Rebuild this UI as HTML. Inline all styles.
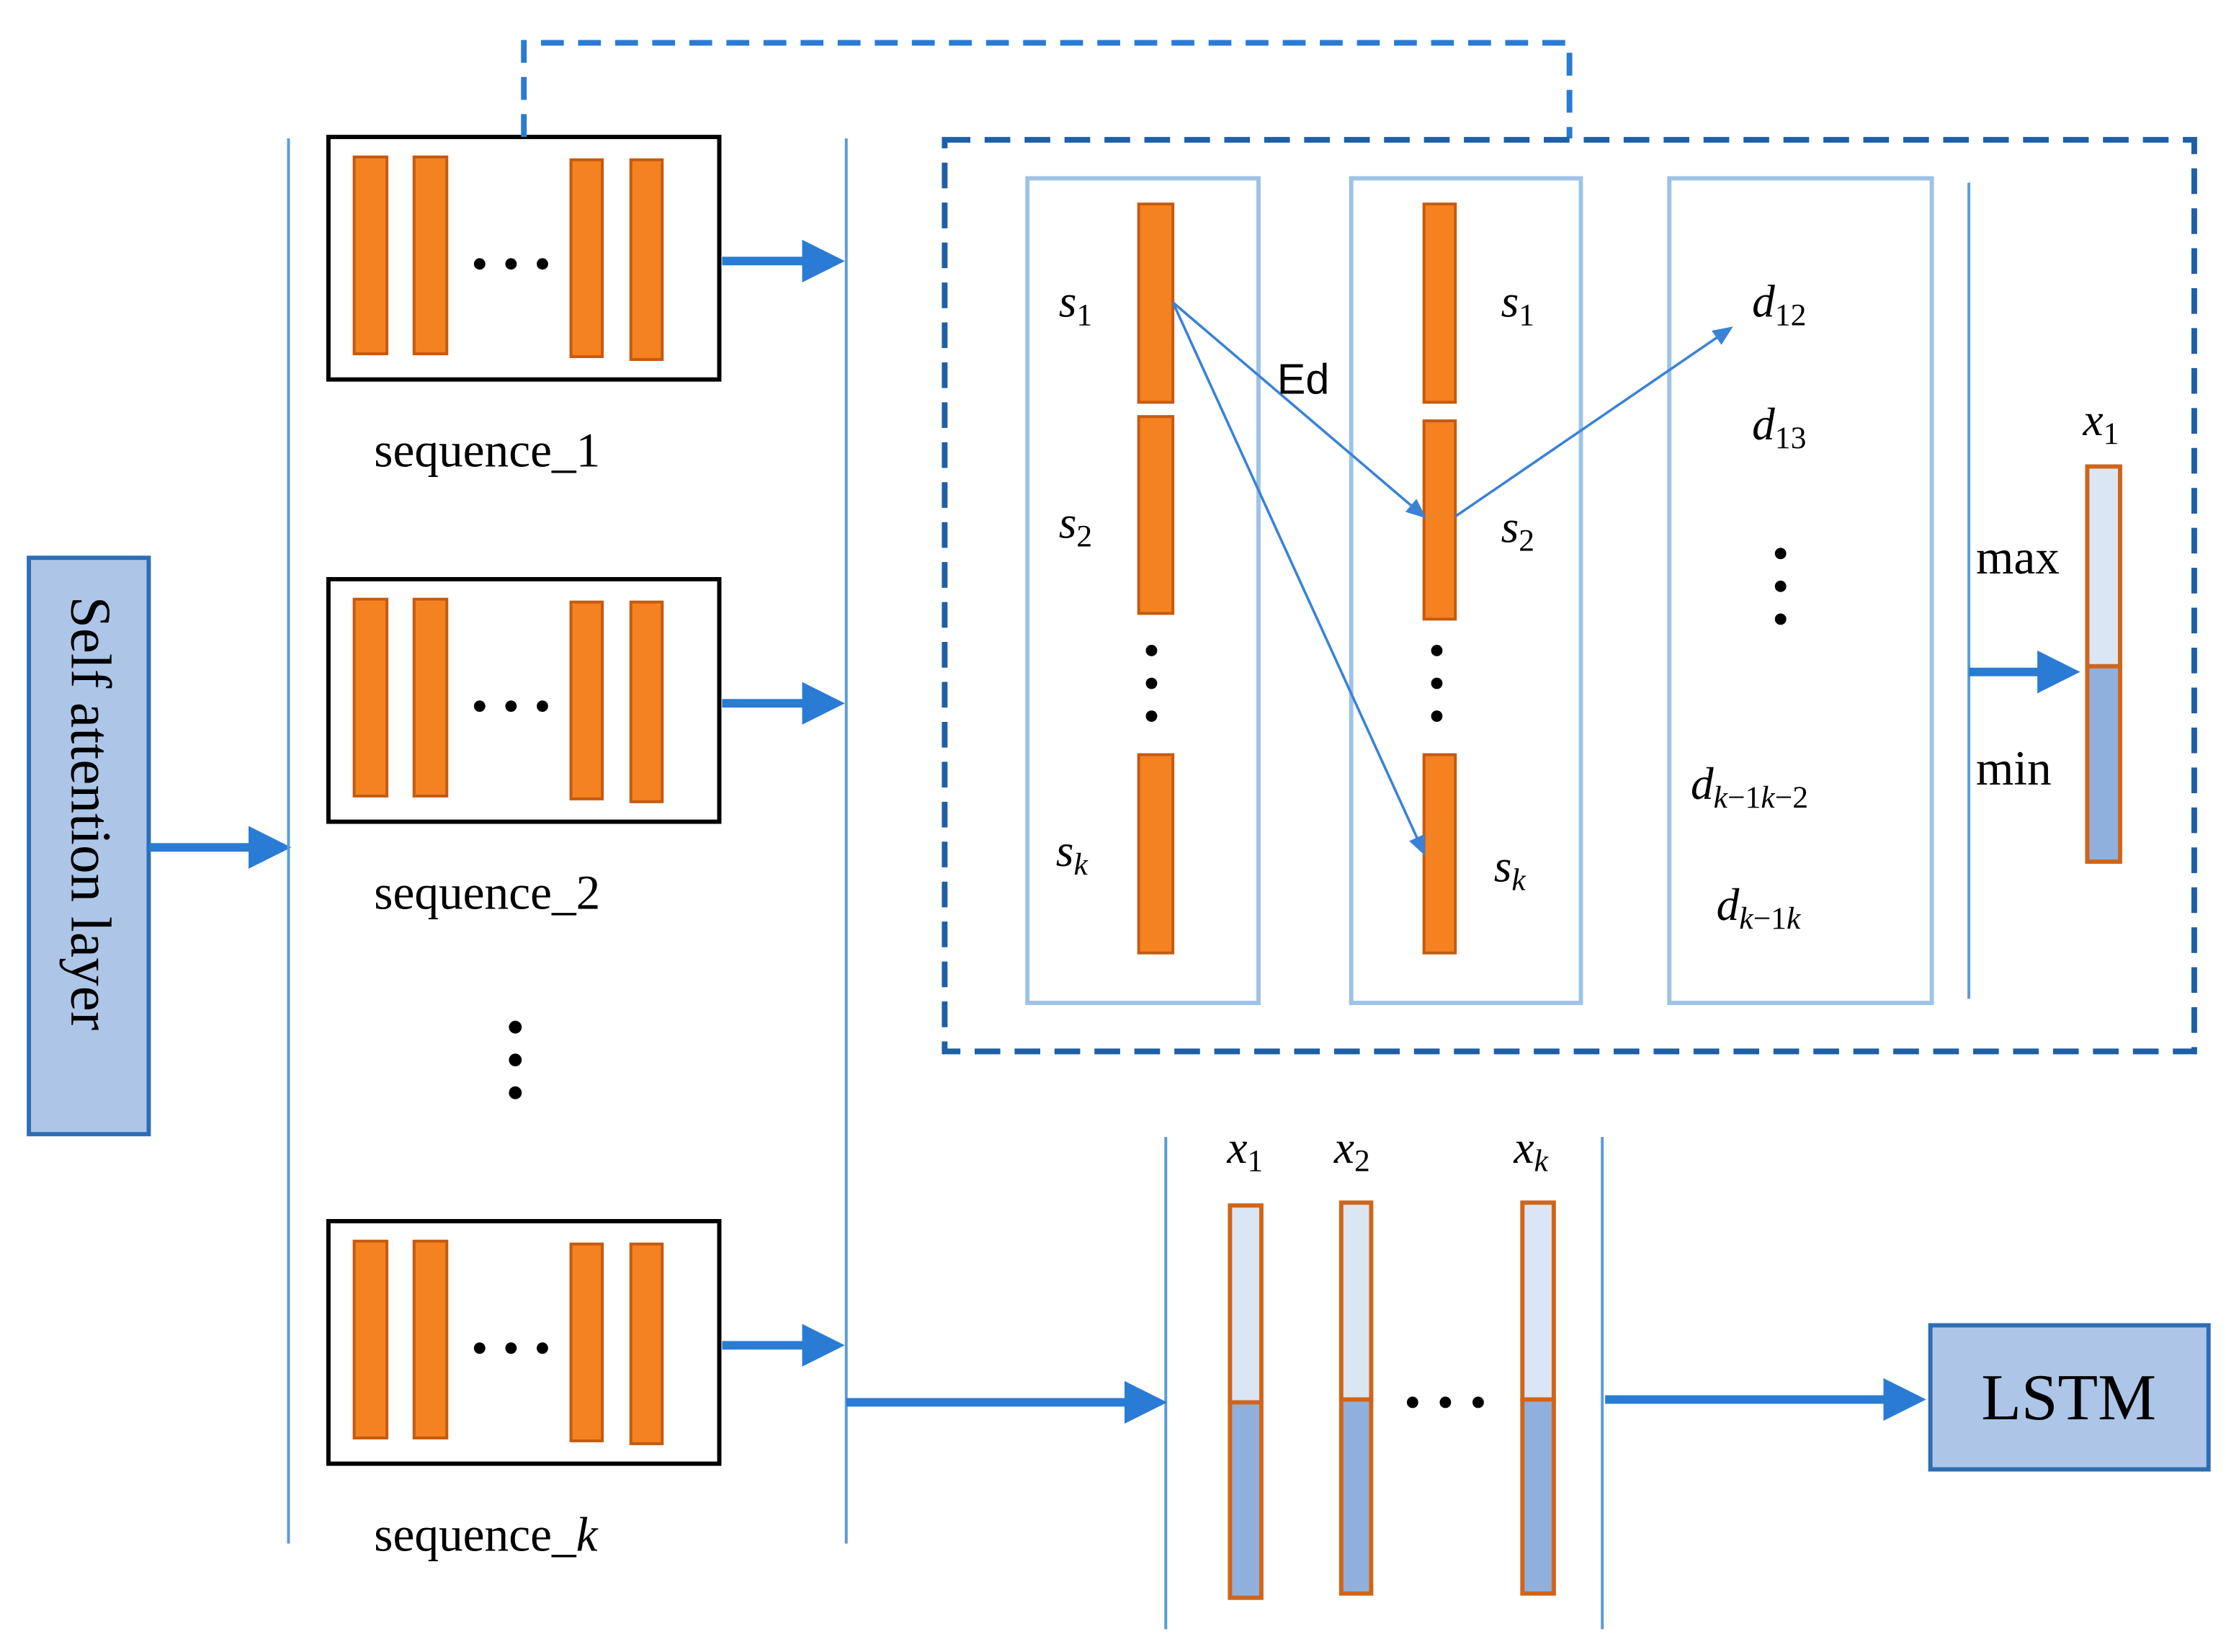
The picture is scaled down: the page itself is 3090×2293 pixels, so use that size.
<!DOCTYPE html>
<html><head><meta charset="utf-8"><style>
html,body{margin:0;padding:0;background:#fff;}
svg{display:block;}
text{font-family:"Liberation Serif",serif;fill:#000;}
</style></head><body>
<svg width="3090" height="2293" viewBox="0 0 1560 1158" xmlns="http://www.w3.org/2000/svg">
<defs>
<marker id="ah" markerWidth="5" markerHeight="5" refX="4" refY="2.5" orient="auto" markerUnits="strokeWidth"><path d="M0,0 L5,2.5 L0,5 Z" fill="#2a7bd4"/></marker>
<marker id="at" markerWidth="14" markerHeight="12" refX="12" refY="6" orient="auto" markerUnits="userSpaceOnUse"><path d="M0,0 L14,6 L0,12 Z" fill="#3a82d6"/></marker>
</defs>
<!-- self attention -->
<rect x="20" y="391" width="84" height="404" fill="#adc6e8" stroke="#2e6db4" stroke-width="3"/>
<text transform="translate(50,418) rotate(90)" font-size="40">Self attention layer</text>
<line x1="104" y1="594" x2="198" y2="594" stroke="#2a7bd4" stroke-width="6" marker-end="url(#ah)"/>
<line x1="202" y1="97" x2="202" y2="1082" stroke="#5b9bd5" stroke-width="2"/>
<line x1="593" y1="97" x2="593" y2="1082" stroke="#5b9bd5" stroke-width="2"/>
<!-- sequences -->
<g id="seq">
<rect x="230" y="96" width="274" height="170" fill="#fff" stroke="#000" stroke-width="3"/>
<rect x="248" y="110" width="23" height="138" fill="#f58220" stroke="#c55a11" stroke-width="2"/>
<rect x="290" y="110" width="23" height="138" fill="#f58220" stroke="#c55a11" stroke-width="2"/>
<rect x="400" y="112" width="22" height="138" fill="#f58220" stroke="#c55a11" stroke-width="2"/>
<rect x="442" y="112" width="22" height="140" fill="#f58220" stroke="#c55a11" stroke-width="2"/>
<circle cx="336" cy="185" r="4"/><circle cx="358" cy="185" r="4"/><circle cx="380" cy="185" r="4"/>
<line x1="506" y1="183" x2="586" y2="183" stroke="#2a7bd4" stroke-width="6" marker-end="url(#ah)"/>
</g>
<use href="#seq" y="310"/>
<use href="#seq" y="760"/>
<text x="262" y="327" font-size="34">sequence_1</text>
<text x="262" y="637" font-size="34">sequence_2</text>
<text x="262" y="1087" font-size="34">sequence_<tspan font-style="italic">k</tspan></text>
<circle cx="361" cy="720" r="4.5"/><circle cx="361" cy="743" r="4.5"/><circle cx="361" cy="766" r="4.5"/>
<!-- dashed connector -->
<path d="M367,96 V30 H1100 V97" fill="none" stroke="#2a7bd4" stroke-width="4" stroke-dasharray="16,10"/>
<rect x="662" y="98" width="876" height="639" fill="none" stroke="#1f5fa6" stroke-width="4" stroke-dasharray="18,10"/>
<rect x="720" y="125" width="162" height="578" fill="none" stroke="#9dc3e6" stroke-width="3"/>
<rect x="947" y="125" width="161" height="578" fill="none" stroke="#9dc3e6" stroke-width="3"/>
<rect x="1170" y="125" width="184" height="578" fill="none" stroke="#9dc3e6" stroke-width="3"/>
<g fill="#f58220" stroke="#c55a11" stroke-width="2">
<rect x="798" y="143" width="24" height="139"/><rect x="798" y="292" width="24" height="138"/><rect x="798" y="529" width="24" height="139"/>
<rect x="998" y="143" width="22" height="139"/><rect x="998" y="295" width="22" height="139"/><rect x="998" y="529" width="22" height="139"/>
</g>
<g font-size="32" font-style="italic">
<text x="742" y="222">s<tspan font-size="22" dy="6" font-style="normal">1</tspan></text>
<text x="742" y="377">s<tspan font-size="22" dy="6" font-style="normal">2</tspan></text>
<text x="740" y="607">s<tspan font-size="22" dy="6">k</tspan></text>
<text x="1052" y="222">s<tspan font-size="22" dy="6" font-style="normal">1</tspan></text>
<text x="1052" y="380">s<tspan font-size="22" dy="6" font-style="normal">2</tspan></text>
<text x="1047" y="618">s<tspan font-size="22" dy="6">k</tspan></text>
<text x="1228" y="222">d<tspan font-size="22" dy="6" font-style="normal">12</tspan></text>
<text x="1228" y="308">d<tspan font-size="22" dy="6" font-style="normal">13</tspan></text>
<text x="1185" y="560">d<tspan font-size="22" dy="6">k</tspan><tspan font-size="22" font-style="normal">−1</tspan><tspan font-size="22">k</tspan><tspan font-size="22" font-style="normal">−2</tspan></text>
<text x="1203" y="645">d<tspan font-size="22" dy="6">k</tspan><tspan font-size="22" font-style="normal">−1</tspan><tspan font-size="22">k</tspan></text>
<text x="1460" y="305">x<tspan font-size="22" dy="6" font-style="normal">1</tspan></text>
<text x="860" y="815">x<tspan font-size="22" dy="6" font-style="normal">1</tspan></text>
<text x="935" y="815">x<tspan font-size="22" dy="6" font-style="normal">2</tspan></text>
<text x="1061" y="815">x<tspan font-size="22" dy="6">k</tspan></text>
</g>
<g fill="#000">
<circle cx="807" cy="456" r="4"/><circle cx="807" cy="479" r="4"/><circle cx="807" cy="502" r="4"/>
<circle cx="1007" cy="456" r="4"/><circle cx="1007" cy="479" r="4"/><circle cx="1007" cy="502" r="4"/>
<circle cx="1248" cy="388" r="4"/><circle cx="1248" cy="411" r="4"/><circle cx="1248" cy="434" r="4"/>
<circle cx="990" cy="983" r="4"/><circle cx="1013" cy="983" r="4"/><circle cx="1036" cy="983" r="4"/>
</g>
<g stroke="#3a82d6" stroke-width="1.8" fill="none">
<line x1="822" y1="212" x2="998" y2="362" marker-end="url(#at)"/>
<line x1="822" y1="212" x2="998" y2="598" marker-end="url(#at)"/>
<line x1="1020" y1="362" x2="1213" y2="230" marker-end="url(#at)"/>
</g>
<text x="895" y="276" font-size="30" font-family="Liberation Sans,sans-serif" style="font-family:'Liberation Sans',sans-serif">Ed</text>
<line x1="1380" y1="128" x2="1380" y2="700" stroke="#5b9bd5" stroke-width="2"/>
<line x1="1380" y1="471" x2="1452" y2="471" stroke="#2a7bd4" stroke-width="6" marker-end="url(#ah)"/>
<text x="1385" y="402" font-size="34">max</text>
<text x="1385" y="550" font-size="34">min</text>
<rect x="1463" y="327" width="23" height="140" fill="#dae6f4"/>
<rect x="1463" y="467" width="23" height="137" fill="#8fb0dd"/>
<rect x="1463" y="327" width="23" height="277" fill="none" stroke="#d0651a" stroke-width="3"/>
<line x1="1463" y1="467" x2="1486" y2="467" stroke="#d0651a" stroke-width="3"/>
<!-- bottom -->
<line x1="817" y1="797" x2="817" y2="1142" stroke="#5b9bd5" stroke-width="2"/>
<line x1="1123" y1="797" x2="1123" y2="1142" stroke="#5b9bd5" stroke-width="2"/>
<line x1="593" y1="983" x2="812" y2="983" stroke="#2a7bd4" stroke-width="6" marker-end="url(#ah)"/>
<g stroke="#d0651a" stroke-width="3">
<rect x="862" y="845" width="22" height="138" fill="#dae6f4"/><rect x="862" y="983" width="22" height="137" fill="#8fb0dd"/>
<rect x="940" y="843" width="21" height="138" fill="#dae6f4"/><rect x="940" y="981" width="21" height="136" fill="#8fb0dd"/>
<rect x="1067" y="843" width="22" height="138" fill="#dae6f4"/><rect x="1067" y="981" width="22" height="136" fill="#8fb0dd"/>
</g>
<line x1="1125" y1="981" x2="1344" y2="981" stroke="#2a7bd4" stroke-width="6" marker-end="url(#ah)"/>
<rect x="1353" y="929" width="195" height="101" fill="#adc6e8" stroke="#2e6db4" stroke-width="3"/>
<text x="1450" y="995" font-size="46" text-anchor="middle">LSTM</text>
</svg>
</body></html>
